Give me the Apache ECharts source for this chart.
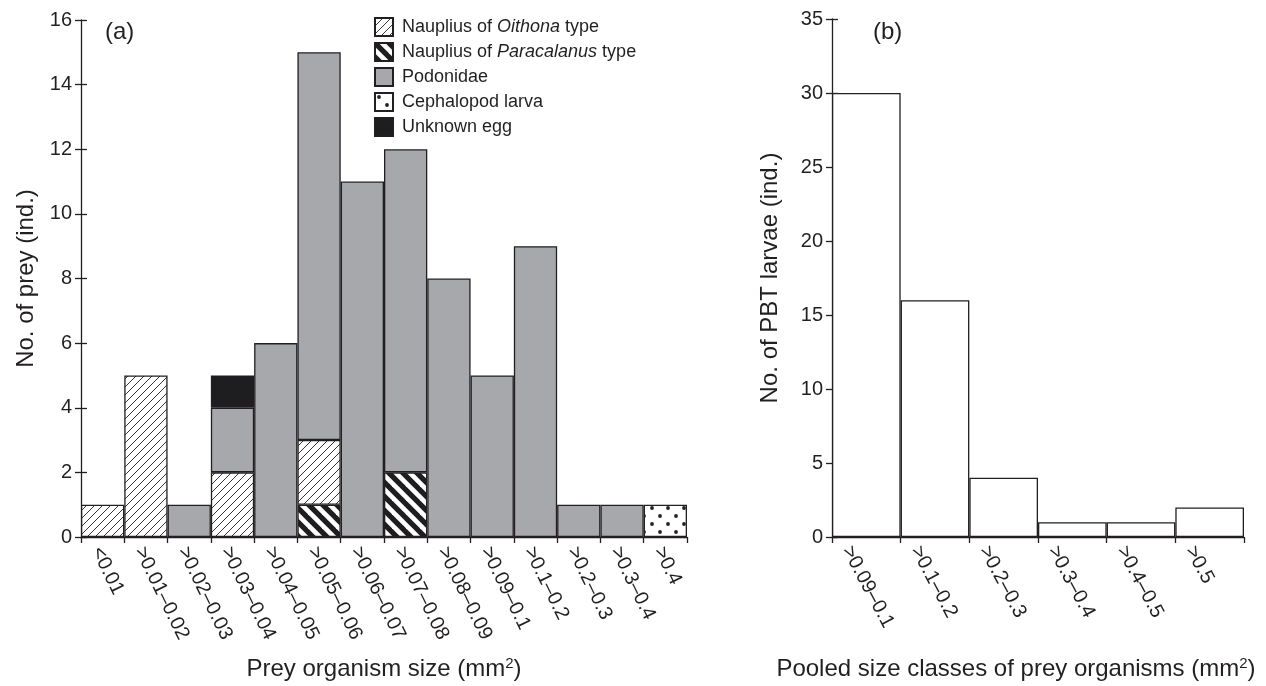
<!DOCTYPE html>
<html>
<head>
<meta charset="utf-8">
<script src="https://cdn.jsdelivr.net/npm/echarts@6/dist/echarts.min.js"></script>
<style>html,body{margin:0;padding:0;background:#fff}#c{width:1266px;height:686px}</style>
</head>
<body>
<div id="c"></div>
<script>
// ---------- data ----------
var sizeClassesA = ['<0.01','>0.01–0.02','>0.02–0.03','>0.03–0.04','>0.04–0.05','>0.05–0.06','>0.06–0.07','>0.07–0.08','>0.08–0.09','>0.09–0.1','>0.1–0.2','>0.2–0.3','>0.3–0.4','>0.4'];
var paracalanus = [null,null,null,null,null,1,null,2,null,null,null,null,null,null];
var oithona     = [1,5,null,2,null,2,null,null,null,null,null,null,null,null];
var podonidae   = [null,null,1,2,6,12,11,10,8,5,9,1,1,null];
var unknownEgg  = [null,null,null,1,null,null,null,null,null,null,null,null,null,null];
var cephalopod  = [null,null,null,null,null,null,null,null,null,null,null,null,null,1];
var yTicksA = {min:0, max:16, interval:2};

var sizeClassesB = ['>0.09–0.1','>0.1–0.2','>0.2–0.3','>0.3–0.4','>0.4–0.5','>0.5'];
var larvaeCounts = [30,16,4,1,1,2];
var yTicksB = {min:0, max:35, interval:5};

var legendNames = ['Oithona','Paracalanus','Podonidae','Cephalopod','Unknown'];
var legendLabels = {
  'Oithona': 'Nauplius of {i|Oithona} type',
  'Paracalanus': 'Nauplius of {i|Paracalanus} type',
  'Podonidae': 'Podonidae',
  'Cephalopod': 'Cephalopod larva',
  'Unknown': 'Unknown egg'
};

// ---------- styles ----------
var INK = '#231f20';
var FONT = 'Liberation Sans, Arial, Helvetica, sans-serif';
function makePattern(w, h, draw) {
  var c = document.createElement('canvas');
  c.width = w; c.height = h;
  var g = c.getContext('2d');
  g.fillStyle = '#ffffff'; g.fillRect(0, 0, w, h);
  draw(g, w, h);
  return {image: c, repeat: 'repeat'};
}
var hatchThin = makePattern(8, 8, function (g, w, h) {
  g.strokeStyle = INK; g.lineWidth = 0.9;
  for (var k = -1; k <= 1; k++) {
    g.beginPath(); g.moveTo(k * w - 1, h + 1); g.lineTo(k * w + w + 1, -1); g.stroke();
  }
});
var hatchBold = makePattern(14, 14, function (g, w, h) {
  g.strokeStyle = '#1e1e20'; g.lineWidth = 5.2;
  for (var k = -1; k <= 1; k++) {
    g.beginPath(); g.moveTo(k * w - 2, -2); g.lineTo(k * w + w + 2, h + 2); g.stroke();
  }
});
var dots = makePattern(16, 16, function (g) {
  g.fillStyle = INK;
  [[4, 4], [12, 12]].forEach(function (p) {
    g.beginPath(); g.arc(p[0], p[1], 1.9, 0, Math.PI * 2); g.fill();
  });
});
var GREY = '#a7a8ab';
var BLACK = '#1e1e20';

function barStyle(color) {
  return {color: color, borderColor: INK, borderWidth: 1.3};
}
var tickLabel = {color: INK, fontSize: 20, fontFamily: FONT};
var axisLine = {show: true, lineStyle: {color: INK, width: 1.3}};
var supRich = {a: {fontSize: 24, color: INK, fontFamily: FONT, lineHeight: 26},
               s: {fontSize: 15, color: INK, fontFamily: FONT, verticalAlign: 'top', lineHeight: 14}};

var chart = echarts.init(document.getElementById('c'), null, {renderer: 'canvas'});
var option = {
  backgroundColor: '#ffffff',
  animation: false,
  textStyle: {fontFamily: FONT, color: INK},
  title: [
    {text: '(a)', left: 100, top: 15, textStyle: {fontSize: 24, fontWeight: 'normal', color: INK, fontFamily: FONT}},
    {text: '(b)', left: 868, top: 15, textStyle: {fontSize: 24, fontWeight: 'normal', color: INK, fontFamily: FONT}}
  ],
  legend: {
    data: legendNames,
    orient: 'vertical',
    left: 369, top: 12,
    itemWidth: 18, itemHeight: 18, itemGap: 5,
    icon: 'rect',
    selectedMode: false,
    formatter: function (n) { return legendLabels[n]; },
    textStyle: {fontSize: 18, color: INK, fontFamily: FONT, padding: [0, 0, 0, 4], lineHeight: 20,
      rich: {i: {fontSize: 18, fontStyle: 'italic', color: INK, fontFamily: FONT, lineHeight: 20}}}
  },
  grid: [
    {left: 81, top: 20, right: 579, bottom: 144, containLabel: false},
    {left: 832, top: 19, right: 22, bottom: 144, containLabel: false}
  ],
  xAxis: [
    {type: 'category', gridIndex: 0, data: sizeClassesA, boundaryGap: true,
     axisLine: axisLine, axisTick: {show: true, length: 6, lineStyle: {color: INK, width: 1.3}},
     axisLabel: Object.assign({rotate: -64, margin: 8, interval: 0, verticalAlign: 'top', lineHeight: 14}, tickLabel),
     name: '{a|Prey organism size (mm}{s|2}{a|)}', nameLocation: 'middle', nameGap: 119,
     nameTextStyle: {rich: supRich}},
    {type: 'category', gridIndex: 1, data: sizeClassesB, boundaryGap: true,
     axisLine: axisLine, axisTick: {show: true, length: 6, lineStyle: {color: INK, width: 1.3}},
     axisLabel: Object.assign({rotate: -62, margin: 0, interval: 0, verticalAlign: 'top', lineHeight: 44}, tickLabel),
     name: '{a|Pooled size classes of prey organisms (mm}{s|2}{a|)}', nameLocation: 'middle', nameGap: 119,
     nameTextStyle: {padding: [0, 44, 0, 0], rich: supRich}}
  ],
  yAxis: [
    {type: 'value', gridIndex: 0, min: yTicksA.min, max: yTicksA.max, interval: yTicksA.interval,
     splitLine: {show: false}, axisLine: axisLine,
     axisTick: {show: true, length: 6, lineStyle: {color: INK, width: 1.3}},
     axisLabel: Object.assign({margin: 9}, tickLabel),
     name: 'No. of prey (ind.)', nameLocation: 'middle', nameGap: 43,
     nameTextStyle: {fontSize: 24, color: INK, fontFamily: FONT}},
    {type: 'value', gridIndex: 0, position: 'left', min: yTicksA.min, max: yTicksA.max, interval: yTicksA.interval,
     splitLine: {show: false}, axisLine: {show: false}, axisLabel: {show: false},
     axisTick: {show: true, inside: true, length: 6, lineStyle: {color: INK, width: 1.3}}},
    {type: 'value', gridIndex: 1, min: yTicksB.min, max: yTicksB.max, interval: yTicksB.interval,
     splitLine: {show: false}, axisLine: axisLine,
     axisTick: {show: true, length: 6, lineStyle: {color: INK, width: 1.3}},
     axisLabel: Object.assign({margin: 9}, tickLabel),
     name: 'No. of PBT larvae (ind.)', nameLocation: 'middle', nameGap: 50,
     nameTextStyle: {fontSize: 24, color: INK, fontFamily: FONT}},
    {type: 'value', gridIndex: 1, position: 'left', min: yTicksB.min, max: yTicksB.max, interval: yTicksB.interval,
     splitLine: {show: false}, axisLine: {show: false}, axisLabel: {show: false},
     axisTick: {show: true, inside: true, length: 6, lineStyle: {color: INK, width: 1.3}}}
  ],
  series: [
    {name: 'Paracalanus', type: 'bar', stack: 'a', xAxisIndex: 0, yAxisIndex: 0, barCategoryGap: '0%',
     data: paracalanus, itemStyle: barStyle(hatchBold)},
    {name: 'Oithona', type: 'bar', stack: 'a', xAxisIndex: 0, yAxisIndex: 0, barCategoryGap: '0%',
     data: oithona, itemStyle: barStyle(hatchThin)},
    {name: 'Podonidae', type: 'bar', stack: 'a', xAxisIndex: 0, yAxisIndex: 0, barCategoryGap: '0%',
     data: podonidae, itemStyle: barStyle(GREY)},
    {name: 'Unknown', type: 'bar', stack: 'a', xAxisIndex: 0, yAxisIndex: 0, barCategoryGap: '0%',
     data: unknownEgg, itemStyle: barStyle(BLACK)},
    {name: 'Cephalopod', type: 'bar', stack: 'a', xAxisIndex: 0, yAxisIndex: 0, barCategoryGap: '0%',
     data: cephalopod, itemStyle: barStyle(dots)},
    {name: 'PBT larvae', type: 'bar', xAxisIndex: 1, yAxisIndex: 2, barCategoryGap: '0%',
     data: larvaeCounts, itemStyle: barStyle('#ffffff')}
  ]
};
chart.setOption(option);
</script>
</body>
</html>
